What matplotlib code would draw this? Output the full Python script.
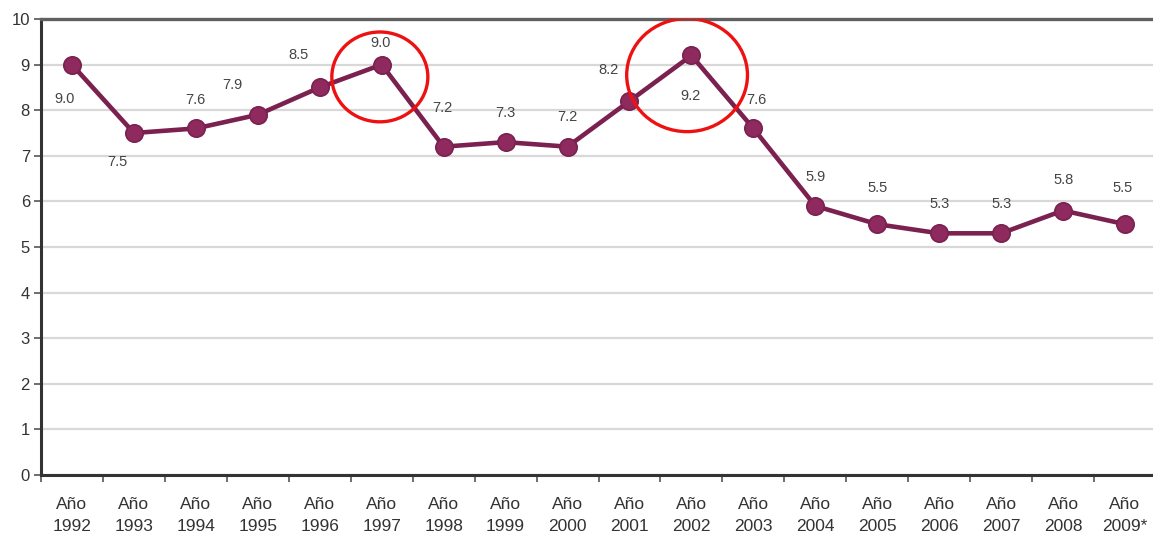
import numpy as np
import matplotlib
matplotlib.use("Agg")
from matplotlib import pyplot as plt
from matplotlib.patches import Ellipse
from matplotlib.ticker import FixedLocator

# datos
years = ["1992", "1993", "1994", "1995", "1996", "1997", "1998", "1999", "2000",
         "2001", "2002", "2003", "2004", "2005", "2006", "2007", "2008", "2009*"]
rates = [9.0, 7.5, 7.6, 7.9, 8.5, 9.0, 7.2, 7.3, 7.2,
         8.2, 9.2, 7.6, 5.9, 5.5, 5.3, 5.3, 5.8, 5.5]
highlight_years = ["1997", "2002"]

# desplazamiento de cada etiqueta (pixeles, x / y)
label_dx = [-7, -17, 0, -25, -21, -1, -1, 0, 0, -21, -1, 3, 0, 0, 0, 0, 0, -2]
label_dy = [-34, -29, 28, 30, 32, 22, 39, 29, 30, 31, -41, 28, 29, 36, 29, 29, 31, 36]

plt.rcParams['font.family'] = ['Liberation Sans', 'DejaVu Sans']

fig = plt.figure(figsize=(11.53, 5.40), dpi=100)
ax = fig.add_axes([41 / 1153, 65 / 540, 1115 / 1153, 456 / 540])

x = np.arange(len(years))
line_col = '#7b2150'
ax.plot(x, rates, color=line_col, linewidth=3.3, marker='o', markersize=12.5,
        markerfacecolor='#8e2a5e', markeredgecolor='#7b2150', markeredgewidth=1.2,
        zorder=3)

for i, v in enumerate(rates):
    ax.annotate(f"{v:.1f}", (x[i], v), xytext=(label_dx[i] * 0.72, label_dy[i] * 0.72),
                textcoords='offset points', ha='center', va='center',
                fontsize=10.5, color='#444444')

# circulos rojos
for yr, (w, h, dy) in zip(highlight_years, [(1.55, 1.97, -0.27), (1.95, 2.48, -0.43)]):
    i = years.index(yr)
    ax.add_patch(Ellipse((i - 0.03 * (yr == "1997") - 0.07 * (yr == "2002"), rates[i] + dy),
                         w, h, fill=False, edgecolor='#ee1111', linewidth=2.4, zorder=4))

ax.set_xlim(-0.5, 17.5)
ax.set_ylim(0, 10)
ax.set_yticks(range(0, 11))
ax.set_xticks(x)
ax.set_xticklabels([f"Año\n{y}" for y in years], fontsize=12.5, color='#333333',
                   linespacing=1.6)
ax.xaxis.set_minor_locator(FixedLocator(np.arange(-0.5, 18, 1)))
ax.tick_params(axis='x', which='major', length=0, pad=16)
ax.tick_params(axis='x', which='minor', length=5, width=1.2, color='#555555')
ax.tick_params(axis='y', length=5, width=1.2, color='#555555', labelsize=12,
               labelcolor='#333333', pad=3)

ax.grid(axis='y', color='#d8d8d8', linewidth=1.6)
ax.set_axisbelow(True)
for s in ['left', 'bottom']:
    ax.spines[s].set_color('#333333')
    ax.spines[s].set_linewidth(2.2)
ax.spines['top'].set_color('#606060')
ax.spines['top'].set_linewidth(2.4)
ax.spines['right'].set_visible(False)

fig.savefig("out.png", dpi=100)
